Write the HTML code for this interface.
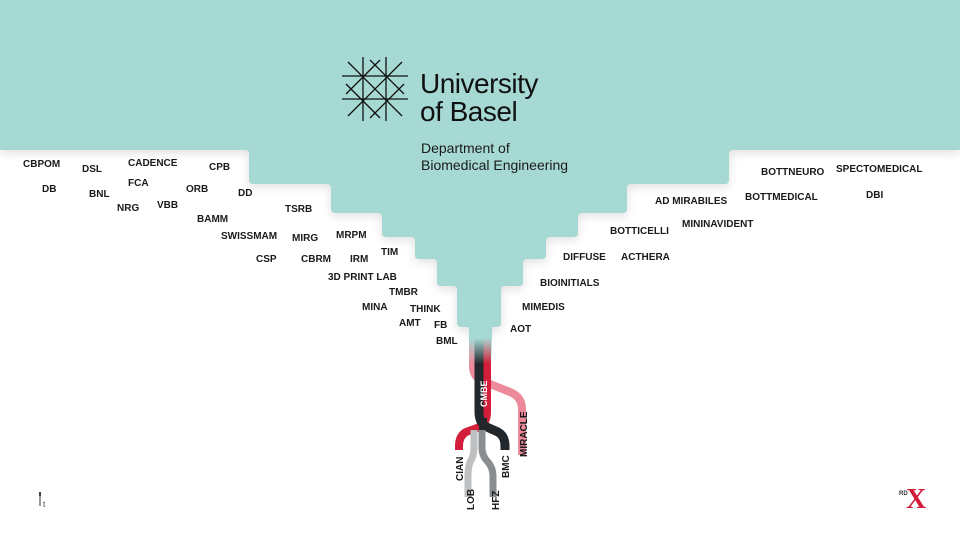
<!DOCTYPE html>
<html><head><meta charset="utf-8">
<style>
html,body{margin:0;padding:0;}
body{width:960px;height:541px;position:relative;overflow:hidden;background:#fff;font-family:"Liberation Sans",sans-serif;}
.l{position:absolute;font-weight:bold;font-size:10px;color:#1a1a1a;line-height:10px;white-space:nowrap;transform:translateY(-5px);}
</style></head><body>
<svg width="960" height="541" style="position:absolute;left:0;top:0">
<defs>
<filter id="sh" x="-10%" y="-10%" width="120%" height="130%"><feGaussianBlur stdDeviation="5"/></filter>
<linearGradient id="fade" x1="0" y1="0" x2="0" y2="1">
<stop offset="0" stop-color="#a6d9d3" stop-opacity="1"/>
<stop offset="1" stop-color="#a6d9d3" stop-opacity="0"/>
</linearGradient>
</defs>
<path d="M0 0H960V150H729V184H627V213H578V237H546V259H523V286H501V327H491V335H470V327H457V286H437V259H415V237H382V213H331V184H249V150H0Z" fill="#000" opacity="0.12" filter="url(#sh)" transform="translate(0,3)"/>
<path d="M0 0H960V150H733Q729 150 729 154V180Q729 184 725 184H631Q627 184 627 188V209Q627 213 623 213H582Q578 213 578 217V233Q578 237 574 237H550Q546 237 546 241V255Q546 259 542 259H527Q523 259 523 263V282Q523 286 519 286H505Q501 286 501 290V323Q501 327 497 327H491V335H470V327H461Q457 327 457 323V290Q457 286 453 286H441Q437 286 437 282V263Q437 259 433 259H419Q415 259 415 255V241Q415 237 411 237H386Q382 237 382 233V217Q382 213 378 213H335Q331 213 331 209V188Q331 184 327 184H253Q249 184 249 180V154Q249 150 245 150H0Z" fill="#a6d9d3"/>
<g fill="none" stroke-linecap="butt">
<path d="M473 330V366Q473 378 485 382L510 392Q522 397 522 409V455" stroke="#ec8a9b" stroke-width="8"/>
<path d="M487 330V412Q487 424 477 428L466 432Q459 436 459 446V450" stroke="#d21e3a" stroke-width="8"/>
<path d="M479 330V412Q479 424 489 428L498 432Q505 436 505 446V450" stroke="#22272b" stroke-width="9"/>
<path d="M474 430V448Q474 456 470 462Q468 468 468 476V497" stroke="#bdbfc1" stroke-width="7"/>
<path d="M482 430V448Q482 456 488 462Q493 468 493 476V497" stroke="#8a8d90" stroke-width="7"/>
<path d="M483 418V430" stroke="#22272b" stroke-width="8"/>
</g>
<rect x="469" y="327" width="23" height="12" fill="#a6d9d3"/>
<rect x="469" y="338" width="23" height="26" fill="url(#fade)"/>
<text transform="translate(487,407) rotate(-90)" font-family="Liberation Sans" font-weight="bold" font-size="9" fill="#fff">CMBE</text>
<g font-family="Liberation Sans" font-weight="bold" font-size="10" fill="#1a1a1a">
<text transform="translate(527,457) rotate(-90)">MIRACLE</text>
<text transform="translate(463,481) rotate(-90)">CIAN</text>
<text transform="translate(509,478) rotate(-90)">BMC</text>
<text transform="translate(474,510) rotate(-90)">LOB</text>
<text transform="translate(499,510) rotate(-90)">HFZ</text>
</g>
<g stroke="#111" stroke-width="1.3" fill="none">
<line x1="342" y1="76" x2="408" y2="76"/>
<line x1="342" y1="99" x2="408" y2="99"/>
<line x1="363" y1="57" x2="363" y2="121"/>
<line x1="386" y1="57" x2="386" y2="121"/>
<line x1="348" y1="62" x2="402" y2="116"/>
<line x1="402" y1="62" x2="348" y2="116"/>
<line x1="370" y1="60" x2="404" y2="94"/>
<line x1="380" y1="60" x2="346" y2="94"/>
<line x1="346" y1="84" x2="380" y2="118"/>
<line x1="404" y1="84" x2="370" y2="118"/>
</g>
<line x1="40" y1="492" x2="40" y2="506" stroke="#333" stroke-width="1"/>
<line x1="40" y1="492" x2="40" y2="496" stroke="#000" stroke-width="1.5"/>
</svg>
<div style="position:absolute;left:420px;top:70px;font-size:28px;line-height:28px;color:#111;letter-spacing:-0.5px">University</div>
<div style="position:absolute;left:420px;top:98px;font-size:28px;line-height:28px;color:#111;letter-spacing:-0.5px">of Basel</div>
<div style="position:absolute;left:421px;top:140px;font-size:14px;line-height:17px;color:#1a1a1a">Department of<br>Biomedical Engineering</div>
<div style="position:absolute;left:43px;top:500px;font-size:8px;color:#333">t</div>
<div style="position:absolute;left:899px;top:491px;font-size:6px;font-weight:bold;color:#333">RD</div>
<div style="position:absolute;left:906px;top:487px;font-family:'Liberation Serif',serif;font-size:28px;line-height:26px;font-weight:bold;color:#d21e3a">X</div>

<div class="l" style="left:23px;top:165px">CBPOM</div>
<div class="l" style="left:82px;top:170px">DSL</div>
<div class="l" style="left:128px;top:164px">CADENCE</div>
<div class="l" style="left:209px;top:168px">CPB</div>
<div class="l" style="left:42px;top:190px">DB</div>
<div class="l" style="left:89px;top:195px">BNL</div>
<div class="l" style="left:128px;top:184px">FCA</div>
<div class="l" style="left:186px;top:190px">ORB</div>
<div class="l" style="left:238px;top:194px">DD</div>
<div class="l" style="left:117px;top:209px">NRG</div>
<div class="l" style="left:157px;top:206px">VBB</div>
<div class="l" style="left:285px;top:210px">TSRB</div>
<div class="l" style="left:197px;top:220px">BAMM</div>
<div class="l" style="left:221px;top:237px">SWISSMAM</div>
<div class="l" style="left:292px;top:239px">MIRG</div>
<div class="l" style="left:336px;top:236px">MRPM</div>
<div class="l" style="left:256px;top:260px">CSP</div>
<div class="l" style="left:301px;top:260px">CBRM</div>
<div class="l" style="left:350px;top:260px">IRM</div>
<div class="l" style="left:381px;top:253px">TIM</div>
<div class="l" style="left:328px;top:278px">3D PRINT LAB</div>
<div class="l" style="left:389px;top:293px">TMBR</div>
<div class="l" style="left:362px;top:308px">MINA</div>
<div class="l" style="left:410px;top:310px">THINK</div>
<div class="l" style="left:399px;top:324px">AMT</div>
<div class="l" style="left:434px;top:326px">FB</div>
<div class="l" style="left:436px;top:342px">BML</div>
<div class="l" style="left:510px;top:330px">AOT</div>
<div class="l" style="left:522px;top:308px">MIMEDIS</div>
<div class="l" style="left:540px;top:284px">BIOINITIALS</div>
<div class="l" style="left:563px;top:258px">DIFFUSE</div>
<div class="l" style="left:621px;top:258px">ACTHERA</div>
<div class="l" style="left:610px;top:232px">BOTTICELLI</div>
<div class="l" style="left:655px;top:202px">AD MIRABILES</div>
<div class="l" style="left:682px;top:225px">MININAVIDENT</div>
<div class="l" style="left:745px;top:198px">BOTTMEDICAL</div>
<div class="l" style="left:761px;top:173px">BOTTNEURO</div>
<div class="l" style="left:836px;top:170px">SPECTOMEDICAL</div>
<div class="l" style="left:866px;top:196px">DBI</div>
</body></html>
